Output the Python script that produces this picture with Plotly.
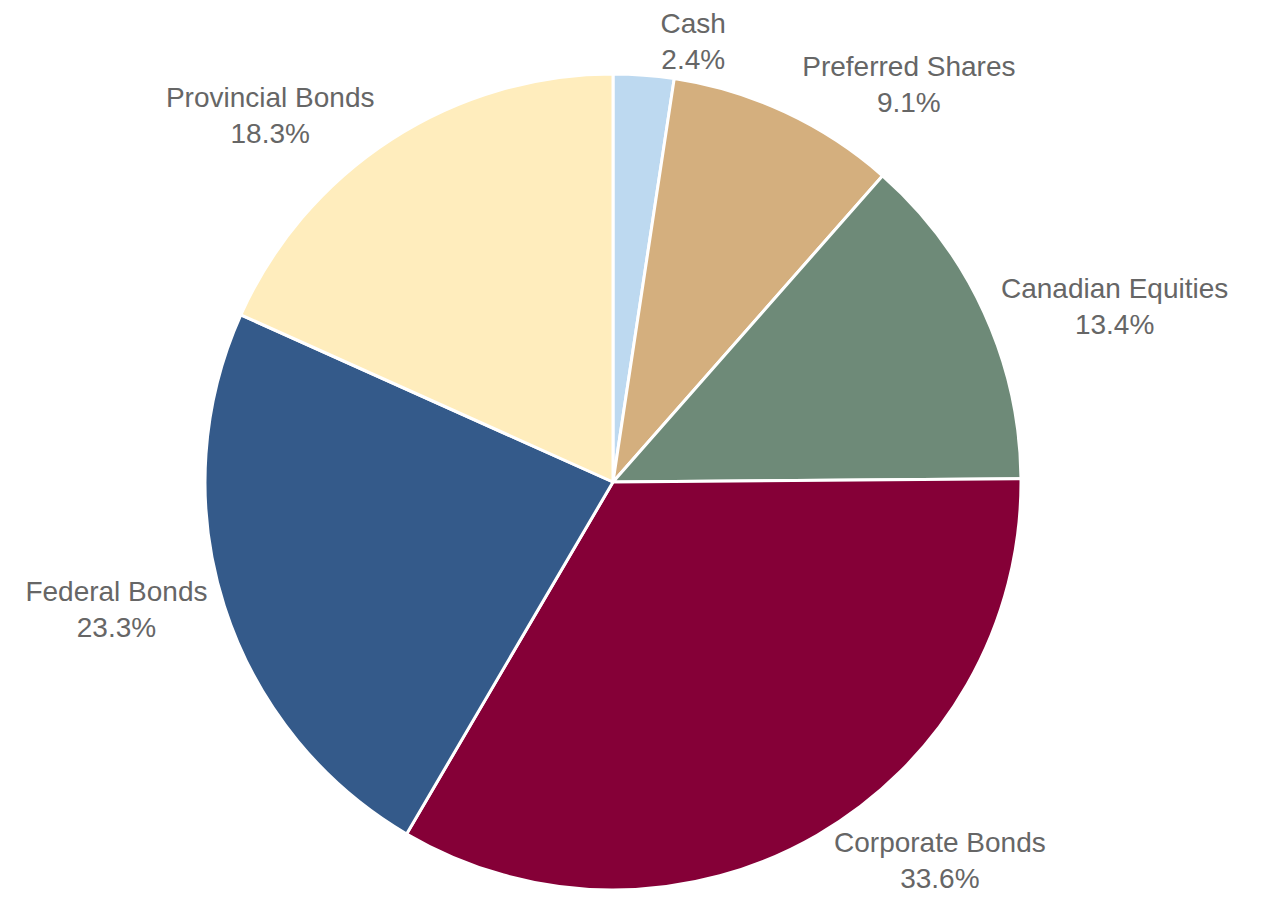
import plotly.graph_objects as go

labels = ["Cash", "Preferred Shares", "Canadian Equities", "Corporate Bonds", "Federal Bonds", "Provincial Bonds"]
values = [2.4, 9.1, 13.4, 33.6, 23.3, 18.3]
colors = ["#BDD9F0", "#D4AF7E", "#6E8A78", "#850037", "#345A8A", "#FFEDBD"]

font = dict(family="Liberation Sans, Arial, sans-serif", size=28, color="#666666")

# main pie: all slices, labels for all but the first (small) slice
main_pos = ["none"] + ["outside"] * (len(labels) - 1)
fig = go.Figure(go.Pie(
    labels=labels,
    values=values,
    sort=False,
    direction="clockwise",
    rotation=0,
    automargin=False,
    marker=dict(colors=colors, line=dict(color="white", width=3)),
    textposition=main_pos,
    texttemplate="%{label}<br>%{value:.1f}%",
    textfont=font,
    showlegend=False,
    hoverinfo="label+value",
))

# overlay identical transparent pie carrying only the small slice's label,
# so it is not pushed away by its neighbour's label
overlay_pos = ["outside"] + ["none"] * (len(labels) - 1)
fig.add_trace(go.Pie(
    labels=labels,
    values=values,
    sort=False,
    direction="clockwise",
    rotation=0,
    automargin=False,
    marker=dict(colors=["rgba(0,0,0,0)"] * len(labels), line=dict(width=0)),
    textposition=overlay_pos,
    texttemplate="%{label}<br>%{value:.1f}%",
    textfont=font,
    showlegend=False,
    hoverinfo="skip",
))

fig.update_layout(
    width=1264,
    height=905,
    margin=dict(l=197, r=251, t=66, b=23, autoexpand=False),
    paper_bgcolor="white",
    plot_bgcolor="white",
)

fig.write_html("out.html")
